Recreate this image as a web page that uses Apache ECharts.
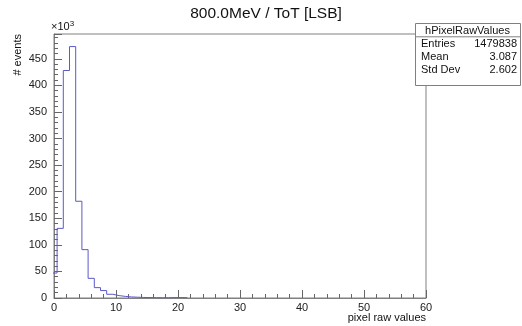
<!DOCTYPE html>
<html><head><meta charset="utf-8">
<script src="https://cdn.jsdelivr.net/npm/echarts@6/dist/echarts.min.js"></script>
<style>html,body{margin:0;padding:0;background:#fff}#c{width:522px;height:326px}</style>
</head><body><div id="c"></div>
<script>
// bin centers (integer raw values), bin width 1
var binCenters = [0,1,2,3,4,5,6,7,8,9,10,11,12,13,14,15,16,17,18,19,20,21];
// counts in units of 10^3
var binCounts = [47,131,428,473,182,91,37,19.5,14,7,4.5,3,2,1.5,1,0.8,0.6,0.5,0.5,0.8,0.8,0.6];
var yTicks = [0,50,100,150,200,250,300,350,400,450];
var xTicks = [0,10,20,30,40,50,60];
var statsRows = [["Entries","1479838"],["Mean","3.087"],["Std Dev","2.602"]];
var titleText = "800.0MeV / ToT [LSB]";
var statsTitle = "hPixelRawValues";

var F = "Liberation Sans, Arial, Helvetica, sans-serif";
// histogram outline: left edges with bin values, step 'end'
var stepData = binCenters.map(function(c,i){return [c-0.5, binCounts[i]];});
stepData.push([binCenters[binCenters.length-1]+0.5, 0]);

var chart = echarts.init(document.getElementById('c'), null, {renderer:'canvas'});
var axisCol = '#808080';
var rowH = 13.3, boxX = 415, boxY = 23, boxW = 105;
var graphics = [
  {type:'rect', shape:{x:boxX+0.5,y:boxY+0.5,width:boxW,height:62}, style:{fill:'#fff',stroke:axisCol,lineWidth:1}, z:100},
  {type:'line', shape:{x1:boxX,y1:boxY+rowH+0.5,x2:boxX+boxW,y2:boxY+rowH+0.5}, style:{stroke:axisCol,lineWidth:1}, z:101},
  {type:'text', x:boxX+boxW/2, y:30.7, style:{text:statsTitle, font:'11px '+F, fill:'#111', textAlign:'center', textVerticalAlign:'middle'}, z:101},
  {type:'text', x:266, y:14, style:{text:titleText, font:'15.5px '+F, fill:'#111', textAlign:'center', textVerticalAlign:'middle'}, z:101},
  {type:'text', x:18, y:34, rotation:Math.PI/2, style:{text:'# events', font:'11px '+F, fill:'#111', textAlign:'right', textVerticalAlign:'middle'}, z:101},
  {type:'text', x:426, y:317.5, style:{text:'pixel raw values', font:'11px '+F, fill:'#111', textAlign:'right', textVerticalAlign:'middle'}, z:101},
  {type:'text', x:51, y:27, style:{text:'{a|×10}{b|3}', rich:{a:{font:'11px '+F, fill:'#111'}, b:{font:'8px '+F, fill:'#111', verticalAlign:'top', padding:[0,0,6,0]}}, textVerticalAlign:'middle'}, z:101}
];
statsRows.forEach(function(r,i){
  var cy = 44 + i*13.1;
  graphics.push({type:'text', x:boxX+6, y:cy, style:{text:r[0], font:'11px '+F, fill:'#111', textAlign:'left', textVerticalAlign:'middle'}, z:101});
  graphics.push({type:'text', x:boxX+boxW-3, y:cy, style:{text:r[1], font:'11px '+F, fill:'#111', textAlign:'right', textVerticalAlign:'middle'}, z:101});
});

chart.setOption({
  animation:false,
  backgroundColor:'#fff',
  grid:{left:54, right:96, top:34, bottom:28, show:true, borderColor:axisCol, borderWidth:1, backgroundColor:'transparent'},
  xAxis:{type:'value', min:0, max:60, interval:10,
    axisLine:{show:true, lineStyle:{color:axisCol}},
    axisTick:{show:true, inside:true, length:8, lineStyle:{color:'#666'}},
    minorTick:{show:true, splitNumber:5, length:4, lineStyle:{color:'#666'}},
    splitLine:{show:false},
    axisLabel:{margin:4, color:'#222', fontSize:11, fontFamily:F,
      formatter:function(v){return xTicks.indexOf(v)>=0?String(v):'';}}
  },
  yAxis:{type:'value', min:0, max:496.65, interval:50,
    axisLine:{show:true, lineStyle:{color:axisCol}},
    axisTick:{show:true, inside:true, length:8, lineStyle:{color:'#666'}},
    minorTick:{show:true, splitNumber:5, length:4, lineStyle:{color:'#666'}},
    splitLine:{show:false},
    axisLabel:{margin:7, color:'#222', fontSize:11, fontFamily:F,
      formatter:function(v){return yTicks.indexOf(v)>=0?String(v):'';}}
  },
  series:[{type:'line', step:'end', data:stepData, symbol:'none', clip:true,
    lineStyle:{color:'#5a5ac8', width:1}}],
  graphic:graphics
});
</script></body></html>
